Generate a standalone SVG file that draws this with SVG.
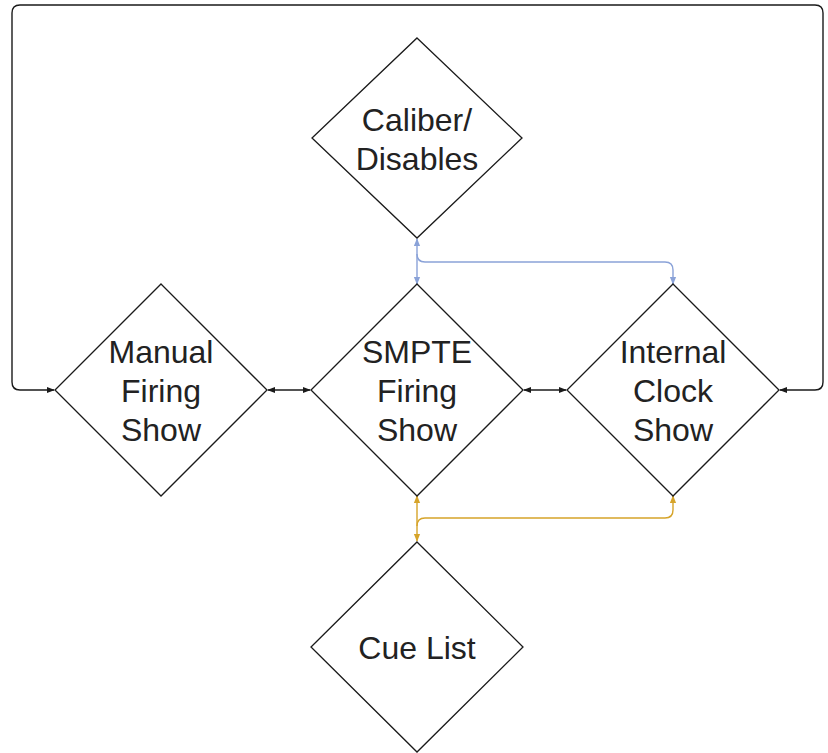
<svg xmlns="http://www.w3.org/2000/svg" width="828" height="753" viewBox="0 0 828 753">
<style>
.shape{fill:#ffffff;stroke:#1a1a1a;stroke-width:1.3}
.lbl{font-family:"Liberation Sans",Arial,sans-serif;font-size:32px;fill:#222222;text-anchor:middle}
.c{fill:none;stroke-width:1.4}
.k{stroke:#1a1a1a;marker-start:url(#ak);marker-end:url(#ak)}
.b{stroke:#8aa2d8}
.o{stroke:#d6a42a}
</style>
<defs>
<marker id="ak" viewBox="0 0 10 10" refX="9" refY="5" markerWidth="8" markerHeight="8" markerUnits="userSpaceOnUse" orient="auto-start-reverse"><path d="M0,1 L10,5 L0,9 Z" fill="#1a1a1a"/></marker>
<marker id="ab" viewBox="0 0 10 10" refX="9" refY="5" markerWidth="8" markerHeight="8" markerUnits="userSpaceOnUse" orient="auto-start-reverse"><path d="M0,1 L10,5 L0,9 Z" fill="#8aa2d8"/></marker>
<marker id="ao" viewBox="0 0 10 10" refX="9" refY="5" markerWidth="8" markerHeight="8" markerUnits="userSpaceOnUse" orient="auto-start-reverse"><path d="M0,1 L10,5 L0,9 Z" fill="#d6a42a"/></marker>
</defs>
<g id="connectors">
<path class="c k" d="M54,390 H20 Q12,390 12,382 V13 Q12,5 20,5 H815 Q823,5 823,13 V382 Q823,390 815,390 H780"/>
<path class="c k" d="M268,390 H310"/>
<path class="c k" d="M524,390 H566"/>
<path class="c b" marker-start="url(#ab)" marker-end="url(#ab)" d="M417,239 V284"/>
<path class="c b" marker-end="url(#ab)" d="M417,254 Q417,262 425,262 H665 Q673,262 673,270 V284"/>
<path class="c o" marker-start="url(#ao)" marker-end="url(#ao)" d="M417,496 V541"/>
<path class="c o" marker-end="url(#ao)" d="M417,526 Q417,518 425,518 H665 Q673,518 673,510 V496"/>
</g>
<g id="caliber">
<polygon class="shape" points="417,38 522,138 417,238 312,138"/>
<text class="lbl" x="417" y="131">Caliber/</text>
<text class="lbl" x="417" y="170">Disables</text>
</g>
<g id="manual">
<polygon class="shape" points="161,284 267,390 161,496 55,390"/>
<text class="lbl" x="161" y="363">Manual</text>
<text class="lbl" x="161" y="402">Firing</text>
<text class="lbl" x="161" y="441">Show</text>
</g>
<g id="smpte">
<polygon class="shape" points="417,284 523,390 417,496 311,390"/>
<text class="lbl" x="417" y="363">SMPTE</text>
<text class="lbl" x="417" y="402">Firing</text>
<text class="lbl" x="417" y="441">Show</text>
</g>
<g id="internal">
<polygon class="shape" points="673,284 779,390 673,496 567,390"/>
<text class="lbl" x="673" y="363">Internal</text>
<text class="lbl" x="673" y="402">Clock</text>
<text class="lbl" x="673" y="441">Show</text>
</g>
<g id="cuelist">
<polygon class="shape" points="417,542 523,647 417,752 311,647"/>
<text class="lbl" x="417" y="659">Cue List</text>
</g>
</svg>
